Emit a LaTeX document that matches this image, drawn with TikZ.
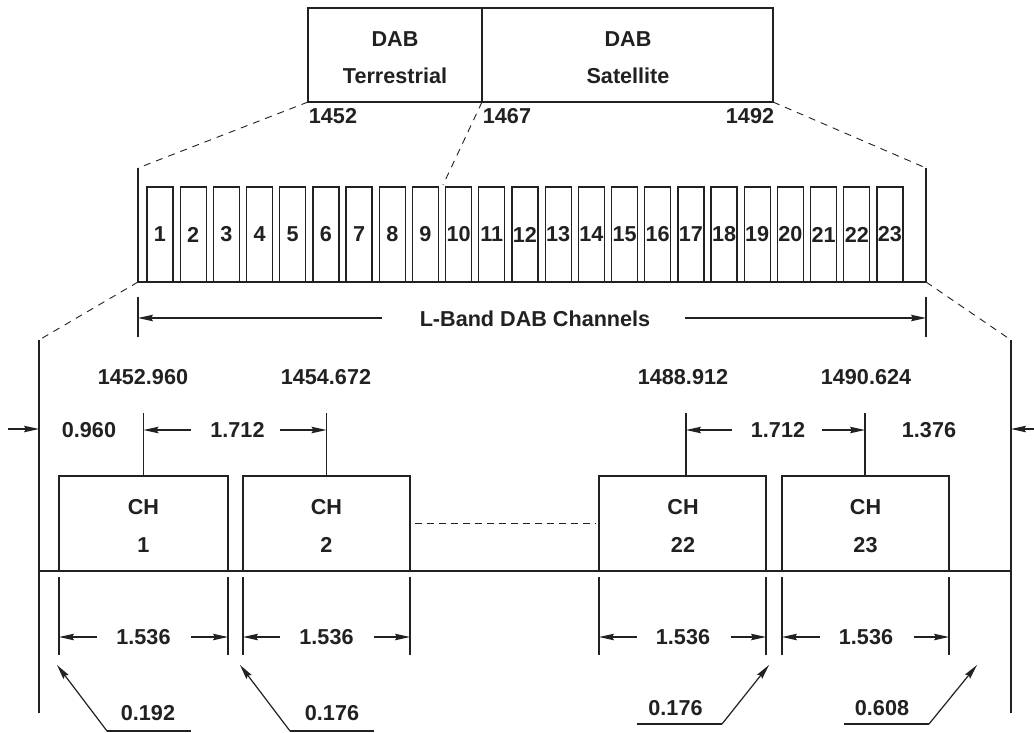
\documentclass[tikz,border=0pt]{standalone}
\usepackage{fontspec}
\setmainfont{Liberation Sans}
\usetikzlibrary{arrows.meta}
\definecolor{ink}{gray}{0.13}
\begin{document}
\begin{tikzpicture}[x=1pt,y=-1pt,color=ink,line width=1.3pt,
  every node/.style={text=ink,font=\fontsize{21.6}{25}\selectfont\bfseries,inner sep=0pt},
  box/.style={draw=ink,line width=1.3pt,rectangle,inner sep=0pt,outer sep=0pt},
  chanbox/.style={box,minimum width=26pt,minimum height=95pt},
  bigbox/.style={box,minimum height=95pt},
  dimarrow/.style={-{Stealth[length=15pt,width=6.5pt,inset=2pt]},line width=1.2pt},
  guide/.style={dash pattern=on 7pt off 6pt,line width=0.9pt},
  extline/.style={line width=1.2pt}]
\useasboundingbox[fill=white] (0,0) rectangle (1034,732);

% ---- top band box
\node[box,minimum width=174pt,minimum height=94pt] (terr) at (395,55) {};
\node[box,minimum width=291pt,minimum height=94pt] (sat) at (627.5,55) {};
\node (tdab) at (395,39.5) {DAB};
\node (tterr) at (395,76) {Terrestrial};
\node (sdab) at (628,39.5) {DAB};
\node (ssat) at (628,76) {Satellite};
\node (f1452) at (333,116) {1452};
\node (f1467) at (507,116) {1467};
\node (f1492) at (750,116) {1492};

% ---- channel row
\coordinate (lt) at (138,168);
\coordinate (lb) at (138,282);
\coordinate (rt) at (926,168);
\coordinate (rb) at (926,282);
\coordinate (c10top) at (443,185);
\draw[guide] (terr.south west) -- (lt);
\draw[guide] (terr.south east) -- (c10top);
\draw[guide] (sat.south east) -- (rt);
\draw (lt) -- (lb) -- (rb) -- (rt);
\foreach \i in {1,...,23}{
  \node[chanbox] (c\i) at ({160+(\i-1)*33.18},234.5) {\i};
}

% ---- L-band dimension
\coordinate (lbl1) at (138,297);
\coordinate (lbl2) at (138,337);
\coordinate (lbr1) at (926,297);
\coordinate (lbr2) at (926,337);
\draw[extline] (lbl1) -- (lbl2);
\draw[extline] (lbr1) -- (lbr2);
\node (lband) at (535,319) {L-Band DAB Channels};
\coordinate (lba) at (382,318);
\coordinate (lbb) at (685,318);
\draw[dimarrow] (lba) -- (138,318);
\draw[dimarrow] (lbb) -- (926,318);

% ---- zoom guides to lower part
\coordinate (bl) at (39,340);
\coordinate (br) at (1011,340);
\coordinate (bl2) at (39,713);
\coordinate (br2) at (1011,713);
\draw[guide] (lb) -- (bl);
\draw[guide] (rb) -- (br);
\draw (bl) -- (bl2);
\draw (br) -- (br2);
\coordinate (inl) at (8,429);
\coordinate (inr) at (1034,429);
\draw[dimarrow] (inl) -- (39,429);
\draw[dimarrow] (inr) -- (1011,429);

% ---- centre frequencies
\node (fc1) at (143,377) {1452.960};
\node (fc2) at (326,377) {1454.672};
\node (fc22) at (683,377) {1488.912};
\node (fc23) at (866,377) {1490.624};

% ---- channel boxes
\node[bigbox,minimum width=169pt] (ch1) at (143.5,523.5) {};
\node[bigbox,minimum width=167pt] (ch2) at (326.5,523.5) {};
\node[bigbox,minimum width=167pt] (ch22) at (682.5,523.5) {};
\node[bigbox,minimum width=167pt] (ch23) at (865.5,523.5) {};
\node (ch1a) at (143.5,507) {CH};
\node (ch1b) at (143.5,545) {1};
\node (ch2a) at (326.5,507) {CH};
\node (ch2b) at (326.5,545) {2};
\node (ch22a) at (683,507) {CH};
\node (ch22b) at (683,545) {22};
\node (ch23a) at (865.5,507) {CH};
\node (ch23b) at (865.5,545) {23};
\draw[dash pattern=on 7pt off 5pt,line width=0.9pt] ([xshift=5pt]ch2.east) -- ([xshift=-3pt]ch22.west);
\coordinate (basel) at (39,571);
\coordinate (baser) at (1011,571);
\draw (basel) -- (baser);

% ---- spacing dimensions
\draw[extline] (143.5,413) -- (143.5,476);
\draw[extline] (326.5,413) -- (326.5,476);
\draw[extline] (686,413) -- (686,476);
\draw[extline] (865,413) -- (865,476);
\node (d0960) at (89,430) {0.960};
\node (d1712a) at (237.5,430) {1.712};
\node (d1712b) at (778,430) {1.712};
\node (d1376) at (929,430) {1.376};
\draw[dimarrow] (191,430) -- (143.5,430);
\draw[dimarrow] (280,430) -- (326.5,430);
\draw[dimarrow] (732,430) -- (686,430);
\draw[dimarrow] (822,430) -- (865,430);

% ---- bandwidth dimensions
\foreach \n/\l/\r in {ch1/59/228, ch2/243/410, ch22/599/766, ch23/782/949}{
  \draw[extline] (\l,577) -- (\l,655);
  \draw[extline] (\r,577) -- (\r,655);
}
\foreach \n/\c/\l/\r in {bw1/143.5/59/228, bw2/326.5/243/410, bw22/683/599/766, bw23/866/782/949}{
  \node (\n) at (\c,637) {1.536};
  \draw[dimarrow] ({\c-46.5},637) -- (\l,637);
  \draw[dimarrow] ({\c+47.5},637) -- (\r,637);
}

% ---- guard band leaders
\node (g1) at (148,713) {0.192};
\node (g2) at (332,713) {0.176};
\node (g22) at (675.5,708) {0.176};
\node (g23) at (882,708) {0.608};
\draw[line width=1.2pt] (191,731) -- (107,731);
\draw[dimarrow] (107,731) -- (57,665);
\draw[line width=1.2pt] (374,731) -- (290,731);
\draw[dimarrow] (290,731) -- (240,665);
\draw[line width=1.2pt] (637,724) -- (722,724);
\draw[dimarrow] (722,724) -- (769,665);
\draw[line width=1.2pt] (844,724) -- (929,724);
\draw[dimarrow] (929,724) -- (977,665);
\end{tikzpicture}
\end{document}
